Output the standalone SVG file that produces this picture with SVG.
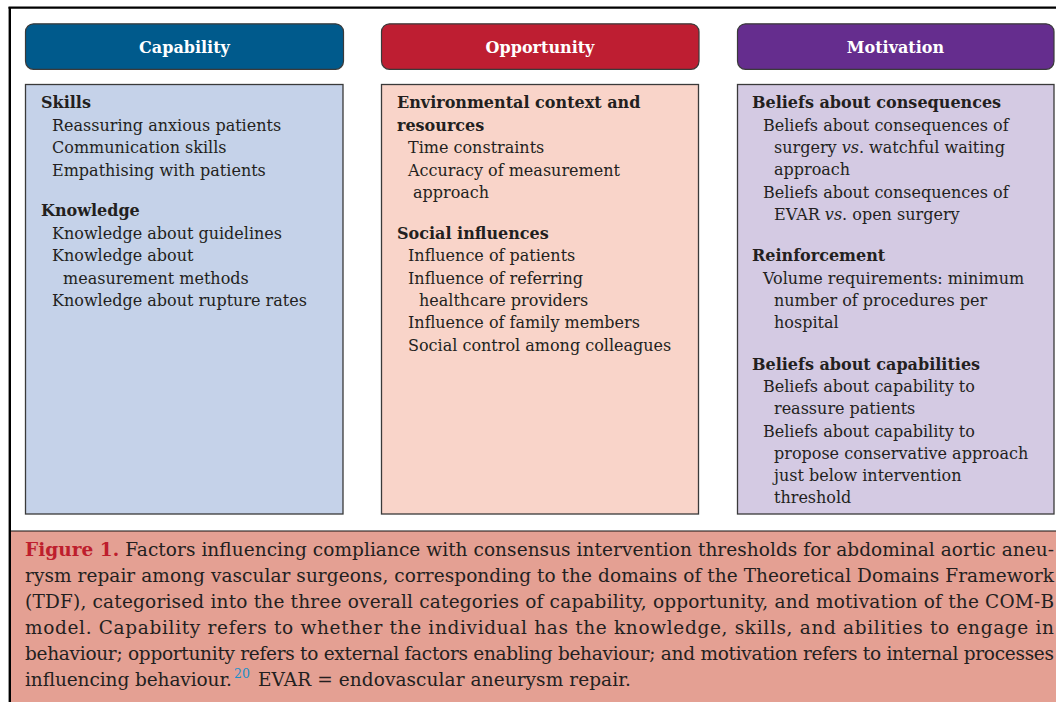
<svg xmlns="http://www.w3.org/2000/svg" width="1056" height="702" viewBox="0 0 1056 702">
<style>
  .hdr { stroke: #3a3a3a; stroke-width: 1.2; }
  .hdrtxt { font-family: "DejaVu Serif", "Liberation Serif", serif; font-weight: bold; font-size: 16px; fill: #ffffff; text-anchor: middle; }
  .panel { stroke: #3a3a3a; stroke-width: 1.3; }
  .t { font-family: "DejaVu Serif", "Liberation Serif", serif; font-size: 16px; fill: #231f20; }
  .b { font-weight: bold; }
  .cap { font-family: "DejaVu Serif", "Liberation Serif", serif; font-size: 18.5px; fill: #231f20; }
  .fig { fill: #be1e2d; font-weight: bold; }
  .sup { font-family: "DejaVu Serif", "Liberation Serif", serif; fill: #1b8fc9; font-size: 12.5px; }
</style>
<rect x="0" y="0" width="1056" height="702" fill="#ffffff"/>
<!-- caption background -->
<rect x="10" y="531" width="1046" height="171" fill="#e4a093"/>
<line x1="10" y1="531" x2="1056" y2="531" stroke="#111" stroke-width="1.2"/>
<!-- outer frame -->
<line x1="8.5" y1="7.7" x2="1056" y2="7.7" stroke="#000" stroke-width="2.2"/>
<line x1="9.8" y1="7" x2="9.8" y2="702" stroke="#000" stroke-width="2.4"/>

<g id="connectors"></g>

<g id="capability">
  <rect class="hdr" x="25.5" y="23.8" width="318" height="45.5" rx="8" fill="#005a8c"/>
  <text class="hdrtxt" x="184.5" y="52.5">Capability</text>
  <rect class="panel" x="25.5" y="84.5" width="317.5" height="429.5" fill="#c5d2e9"/>
  <text class="t b" x="41" y="108">Skills</text>
  <text class="t" x="52" y="131">Reassuring anxious patients</text>
  <text class="t" x="52" y="153">Communication skills</text>
  <text class="t" x="52" y="176">Empathising with patients</text>
  <text class="t b" x="41" y="216">Knowledge</text>
  <text class="t" x="52" y="239">Knowledge about guidelines</text>
  <text class="t" x="52" y="261">Knowledge about</text>
  <text class="t" x="63" y="284">measurement methods</text>
  <text class="t" x="52" y="306">Knowledge about rupture rates</text>
</g>

<g id="opportunity">
  <rect class="hdr" x="381.5" y="23.8" width="317.5" height="45.5" rx="8" fill="#be1e32"/>
  <text class="hdrtxt" x="540" y="52.5">Opportunity</text>
  <rect class="panel" x="381.5" y="84.5" width="317" height="429.5" fill="#f9d4c9"/>
  <text class="t b" x="397" y="108">Environmental context and</text>
  <text class="t b" x="397" y="131">resources</text>
  <text class="t" x="408" y="153">Time constraints</text>
  <text class="t" x="408" y="176">Accuracy of measurement</text>
  <text class="t" x="413" y="198">approach</text>
  <text class="t b" x="397" y="239">Social influences</text>
  <text class="t" x="408" y="261">Influence of patients</text>
  <text class="t" x="408" y="284">Influence of referring</text>
  <text class="t" x="419" y="306">healthcare providers</text>
  <text class="t" x="408" y="328">Influence of family members</text>
  <text class="t" x="408" y="351">Social control among colleagues</text>
</g>

<g id="motivation">
  <rect class="hdr" x="737.5" y="23.8" width="316.5" height="45.5" rx="8" fill="#652d8e"/>
  <text class="hdrtxt" x="895.5" y="52.5">Motivation</text>
  <rect class="panel" x="737.5" y="84.5" width="316.5" height="429.5" fill="#d4cae3"/>
  <text class="t b" x="752" y="108">Beliefs about consequences</text>
  <text class="t" x="763" y="131">Beliefs about consequences of</text>
  <text class="t" x="774" y="153">surgery <tspan font-style="italic">vs</tspan>. watchful waiting</text>
  <text class="t" x="774" y="175">approach</text>
  <text class="t" x="763" y="198">Beliefs about consequences of</text>
  <text class="t" x="774" y="220">EVAR <tspan font-style="italic">vs</tspan>. open surgery</text>
  <text class="t b" x="752" y="261">Reinforcement</text>
  <text class="t" x="763" y="284">Volume requirements: minimum</text>
  <text class="t" x="774" y="306">number of procedures per</text>
  <text class="t" x="774" y="328">hospital</text>
  <text class="t b" x="752" y="370">Beliefs about capabilities</text>
  <text class="t" x="763" y="392">Beliefs about capability to</text>
  <text class="t" x="774" y="414">reassure patients</text>
  <text class="t" x="763" y="437">Beliefs about capability to</text>
  <text class="t" x="774" y="459">propose conservative approach</text>
  <text class="t" x="774" y="481">just below intervention</text>
  <text class="t" x="774" y="503">threshold</text>
</g>

<g id="caption">
  <text class="cap" x="25" y="556" textLength="1029" lengthAdjust="spacing"><tspan class="fig">Figure 1.</tspan> Factors influencing compliance with consensus intervention thresholds for abdominal aortic aneu-</text>
  <text class="cap" x="25" y="582" textLength="1029" lengthAdjust="spacing">rysm repair among vascular surgeons, corresponding to the domains of the Theoretical Domains Framework</text>
  <text class="cap" x="25" y="608" textLength="1029" lengthAdjust="spacing">(TDF), categorised into the three overall categories of capability, opportunity, and motivation of the COM-B</text>
  <text class="cap" x="25" y="634" textLength="1029" lengthAdjust="spacing">model. Capability refers to whether the individual has the knowledge, skills, and abilities to engage in</text>
  <text class="cap" x="25" y="660" textLength="1029" lengthAdjust="spacing">behaviour; opportunity refers to external factors enabling behaviour; and motivation refers to internal processes</text>
  <text class="cap" x="25" y="686" textLength="207" lengthAdjust="spacing">influencing behaviour.</text>
  <text class="sup" x="234" y="678">20</text>
  <text class="cap" x="258" y="686" textLength="373" lengthAdjust="spacing">EVAR = endovascular aneurysm repair.</text>
</g>
</svg>
